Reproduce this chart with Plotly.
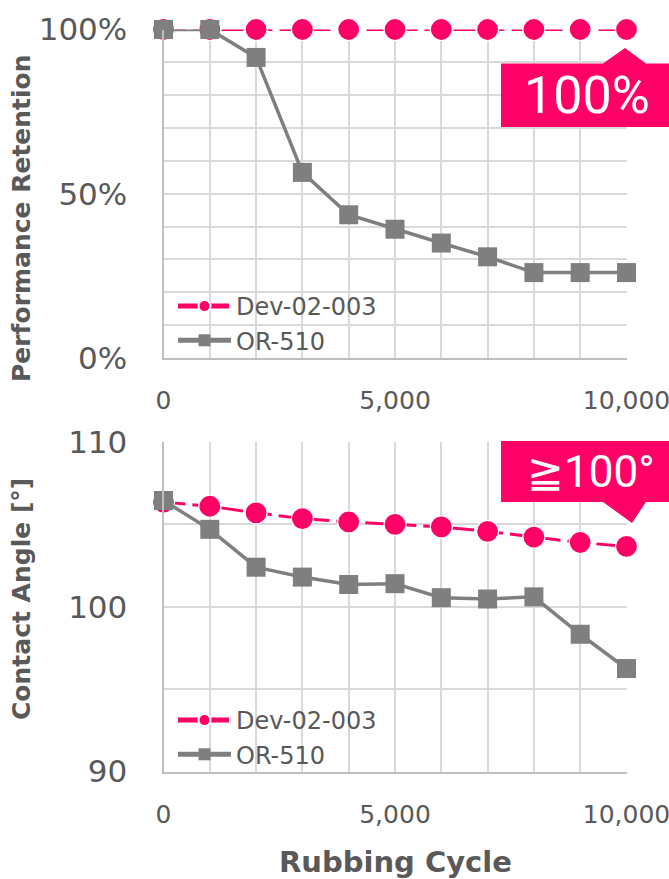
import plotly.graph_objects as go

# ---- data ---------------------------------------------------------------
cycles = [0, 1000, 2000, 3000, 4000, 5000, 6000, 7000, 8000, 9000, 10000]

retention_dev = [100, 100, 100, 100, 100, 100, 100, 100, 100, 100, 100]
retention_or = [100, 100, 91.5, 56.5, 43.6, 39.2, 35.0, 30.8, 26.0, 26.0, 26.0]

angle_dev = [106.35, 106.1, 105.7, 105.35, 105.15, 105.0, 104.85, 104.57, 104.23, 103.9, 103.66]
angle_or = [106.45, 104.7, 102.4, 101.8, 101.35, 101.4, 100.55, 100.47, 100.6, 98.33, 96.25]

series_names = ["Dev-02-003", "OR-510"]

x_tickvals = [0, 1000, 2000, 3000, 4000, 5000, 6000, 7000, 8000, 9000, 10000]
x_ticktext = ["0", "", "", "", "", "5,000", "", "", "", "", "10,000"]
ret_tickvals = [0, 10, 20, 30, 40, 50, 60, 70, 80, 90, 100]
ret_ticktext = ["0%", "", "", "", "", "50%", "", "", "", "", "100%"]
ang_tickvals = [90, 95, 100, 105, 110]
ang_ticktext = ["90", "", "100", "", "110"]

callout_top_text = "100%"
callout_bottom_text = "≧100°"

# ---- styling --------------------------------------------------------------
W, H = 669, 879
PINK = "#FF0066"
GREY = "#7F7F7F"
TEXT = "#595959"
GRID = "#D9D9D9"
AXIS = "#BFBFBF"
FONT = "DejaVu Sans"


def px(x):
    return x / W


def py(y):
    return 1 - y / H


x_dom = [px(163.5), px(626.5)]
top_dom = [py(358), py(29.5)]
bot_dom = [py(771.5), py(442)]

fig = go.Figure()

dev_style = dict(
    mode="lines+markers",
    line=dict(color=PINK, width=3, dash="22px,7px"),
    marker=dict(symbol="circle", size=22, color=PINK, line=dict(color="white", width=1.2)),
    cliponaxis=False,
)
or_style = dict(
    mode="lines+markers",
    line=dict(color=GREY, width=3.5),
    marker=dict(symbol="square", size=19, color=GREY, line=dict(color=GREY, width=0)),
    cliponaxis=False,
)

fig.add_trace(go.Scatter(x=cycles, y=retention_dev, name=series_names[0],
                         xaxis="x", yaxis="y", legend="legend", **dev_style))
fig.add_trace(go.Scatter(x=cycles, y=retention_or, name=series_names[1],
                         xaxis="x", yaxis="y", legend="legend", **or_style))
fig.add_trace(go.Scatter(x=cycles, y=angle_dev, name=series_names[0],
                         xaxis="x2", yaxis="y2", legend="legend2", **dev_style))
fig.add_trace(go.Scatter(x=cycles, y=angle_or, name=series_names[1],
                         xaxis="x2", yaxis="y2", legend="legend2", **or_style))

xaxis_common = dict(
    domain=x_dom, range=[0, 10000], tickvals=x_tickvals, ticktext=x_ticktext,
    showgrid=True, gridcolor=GRID, gridwidth=1.5,
    showline=True, linecolor=AXIS, linewidth=2, zeroline=False,
    ticks="", ticklabelstandoff=19, ticklabeloverflow="allow", automargin=False,
    tickfont=dict(family=FONT, size=25, color=TEXT),
)
yaxis_common = dict(
    showgrid=True, gridcolor=GRID, gridwidth=1.5,
    showline=True, linecolor=AXIS, linewidth=2, zeroline=False,
    ticks="", ticklabelstandoff=28, ticklabeloverflow="allow", automargin=False,
    tickfont=dict(family=FONT, size=31, color=TEXT),
)

legend_common = dict(
    bgcolor="rgba(0,0,0,0)", font=dict(family=FONT, size=24, color=TEXT),
    xanchor="left", yanchor="top", itemwidth=53, itemsizing="constant",
    tracegroupgap=0, borderwidth=0,
)

fig.update_layout(
    width=W, height=H,
    margin=dict(l=0, r=0, t=0, b=0, pad=0, autoexpand=False),
    paper_bgcolor="white", plot_bgcolor="white",
    showlegend=True,
    xaxis=dict(anchor="y", **xaxis_common),
    xaxis2=dict(anchor="y2", **xaxis_common),
    yaxis=dict(anchor="x", domain=top_dom, range=[0, 100],
               tickvals=ret_tickvals, ticktext=ret_ticktext, **yaxis_common),
    yaxis2=dict(anchor="x2", domain=bot_dom, range=[90, 110],
                tickvals=ang_tickvals, ticktext=ang_ticktext, **yaxis_common),
    legend=dict(x=px(173), y=py(284), **legend_common),
    legend2=dict(x=px(173), y=py(698), **legend_common),
)


# callout boxes with pointer notches
def path_from(points):
    parts = []
    for i, (x, y) in enumerate(points):
        parts.append(("M" if i == 0 else "L") + f"{px(x):.5f},{py(y):.5f}")
    return " ".join(parts) + " Z"


top_box = [(501, 63.5), (603, 63.5), (625, 48), (646, 63.5), (670, 63.5),
           (670, 127), (501, 127)]
bot_box = [(501, 441), (670, 441), (670, 502), (646, 502), (632, 523),
           (603, 502), (501, 502)]
for pts in (top_box, bot_box):
    fig.add_shape(type="path", xref="paper", yref="paper", path=path_from(pts),
                  fillcolor=PINK, line=dict(width=0), layer="above")


def label(x, y, text, size, color, family, bold=False, angle=0):
    fig.add_annotation(x=px(x), y=py(y), xref="paper", yref="paper",
                       xanchor="center", yanchor="middle",
                       text=f"<b>{text}</b>" if bold else text,
                       textangle=angle, showarrow=False,
                       font=dict(family=family, size=size, color=color))


label(587, 96, callout_top_text, 52, "white", "Roboto")
label(591, 472, callout_bottom_text, 44, "white", "Roboto")

# axis titles
label(21, 218, "Performance Retention", 25, TEXT, FONT, bold=True, angle=-90)
label(21, 599, "Contact Angle [°]", 25, TEXT, FONT, bold=True, angle=-90)
label(395, 862, "Rubbing Cycle", 29, TEXT, FONT, bold=True)

fig.write_html("out.html")
